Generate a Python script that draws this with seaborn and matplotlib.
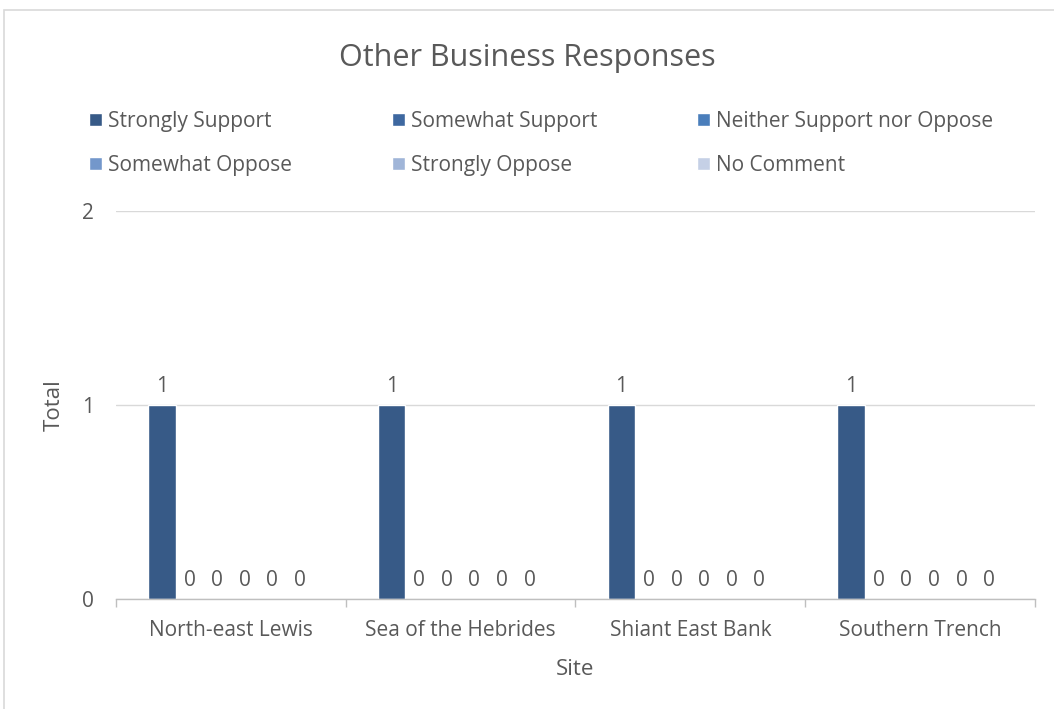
import matplotlib
matplotlib.use("Agg")
import matplotlib.pyplot as plt
import seaborn as sns
import pandas as pd
from matplotlib.patches import Rectangle

sites = ["North-east Lewis", "Sea of the Hebrides", "Shiant East Bank", "Southern Trench"]
responses = ["Strongly Support", "Somewhat Support", "Neither Support nor Oppose",
             "Somewhat Oppose", "Strongly Oppose", "No Comment"]
strongly_support = [1, 1, 1, 1]
somewhat_support = [0, 0, 0, 0]
neither = [0, 0, 0, 0]
somewhat_oppose = [0, 0, 0, 0]
strongly_oppose = [0, 0, 0, 0]
no_comment = [0, 0, 0, 0]
colors = ["#375A87", "#3E68A0", "#4A7EBB", "#7397CB", "#A0B5D8", "#C5D0E6"]

series = [strongly_support, somewhat_support, neither, somewhat_oppose, strongly_oppose, no_comment]
rows = []
for resp, vals in zip(responses, series):
    for site, v in zip(sites, vals):
        rows.append({"Site": site, "Response": resp, "Total": v})
df = pd.DataFrame(rows)

sns.set_theme(style="white")
plt.rcParams["font.family"] = ["Open Sans", "DejaVu Sans"]
text_color = "#595959"
fs = 15

fig = plt.figure(figsize=(10.54, 7.09), dpi=100)
ax = fig.add_axes([0.110, 0.155, 0.872, 0.5476])

sns.barplot(data=df, x="Site", y="Total", hue="Response", order=sites, hue_order=responses,
            palette=colors, width=0.72, saturation=1, ax=ax, legend=False, errorbar=None)

for container in ax.containers:
    ax.bar_label(container, fmt="%d", padding=6, fontsize=fs, color=text_color)

ax.set_ylim(0, 2)
ax.set_xlim(-0.5, 3.5)
ax.set_yticks([0, 1, 2])
ax.yaxis.grid(True, color="#D9D9D9", linewidth=1)
ax.set_axisbelow(True)
for s in ["top", "right", "left"]:
    ax.spines[s].set_visible(False)
ax.spines["bottom"].set_color("#BFBFBF")
ax.spines["bottom"].set_linewidth(1)

ax.set_xticks([-0.5, 0.5, 1.5, 2.5, 3.5], minor=True)
ax.tick_params(axis="x", which="minor", length=6, color="#BFBFBF", width=1, bottom=True)
ax.tick_params(axis="x", which="major", length=0, pad=15, labelsize=fs, labelcolor=text_color)
ax.tick_params(axis="y", length=0, pad=16, labelsize=fs, labelcolor=text_color)

ax.set_xlabel("Site", fontsize=fs + 1, color=text_color)
ax.set_ylabel("Total", fontsize=fs + 1, color=text_color)
ax.xaxis.set_label_coords(0.5, -60 / 388)
ax.yaxis.set_label_coords(-51 / 919, 0.5)

fig.text(0.5, 1 - 58 / 709, "Other Business Responses", fontsize=22, color=text_color,
         ha="center", va="center")

# legend: three columns, two rows (row-major order like the original)
handles = [Rectangle((0, 0), 1, 1, facecolor=c) for c in colors]
col_x = [89, 392, 697]
for i, x in enumerate(col_x):
    leg = fig.legend([handles[i], handles[i + 3]], [responses[i], responses[i + 3]],
                     loc="upper left", bbox_to_anchor=(x / 1054, 1 - 111 / 709),
                     frameon=False, fontsize=fs, labelcolor=text_color,
                     handlelength=0.6, handleheight=0.6, handletextpad=0.3,
                     labelspacing=1.09, borderpad=0, borderaxespad=0)

fig.patches.append(Rectangle((4 / 1054, -0.05), 1.1, 1 - 10 / 709 + 0.05, transform=fig.transFigure,
                             fill=False, edgecolor="#D9D9D9", linewidth=1.2))

fig.savefig("out.png", dpi=100)
